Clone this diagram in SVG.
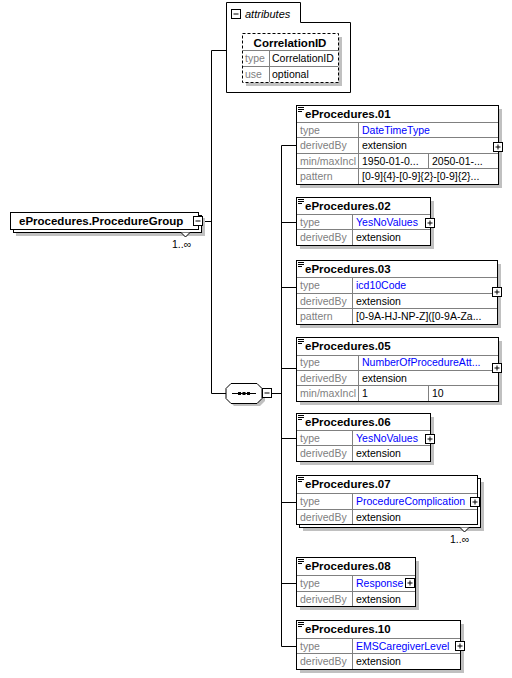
<svg xmlns="http://www.w3.org/2000/svg" width="512" height="678" viewBox="0 0 512 678">
<style>
text{font-family:"Liberation Sans",Arial,sans-serif;font-size:10.5px}
.t{font-weight:bold;font-size:11.5px;fill:#000}
.l{fill:#808080}
.v{fill:#000}
.b{fill:#0000ff}
.box{fill:#fff;stroke:#000;stroke-width:1}
.sh{fill:#c0c0c0}
.g{stroke:#808080;stroke-width:1;fill:none}
.c{stroke:#000;stroke-width:1;fill:none}
.ic{fill:#fff;stroke:#000;stroke-width:1}
</style>
<defs>
<g id="plus"><rect class="ic" x="0.5" y="0.5" width="9" height="9"/><path class="c" d="M2.5,5H7.5M5,2.5V7.5"/></g>
<g id="minus"><rect class="ic" x="0.5" y="0.5" width="9" height="9"/><path class="c" d="M2.5,5H7.5"/></g>
<g id="doc"><path class="c" d="M0,0.5H6M0,2.5H6M0,4.5H4"/></g>
</defs>

<g id="connectors">
<path class="c" d="M211.5,50.5V393.5M211.5,50.5H226M203,221.5H211.5M211.5,393.5H226M272,393.5H281.5M281.5,145.5V646.5"/>
<path class="c" d="M281.5,145.5H296M281.5,222.5H296M281.5,287.5H296M281.5,368.5H296M281.5,438.5H296M281.5,502.5H296M281.5,583.5H296M281.5,646.5H296"/>
</g>

<g id="attributes">
<path class="box" d="M226.5,92.5V2.5H300.5V22.5H350.5V92.5Z"/>
<use href="#minus" x="231" y="9"/>
<text x="245" y="18" style="font-style:italic;font-size:11px">attributes</text>
<rect class="sh" x="246" y="37" width="96" height="49"/>
<rect x="242.5" y="33.5" width="96" height="49" fill="#fff" stroke="#000" stroke-dasharray="3,2"/>
<path class="g" d="M243,50.5H338M243,66.5H338M269.5,50V82"/>
<text class="t" x="290" y="47" text-anchor="middle">CorrelationID</text>
<text class="l" x="245" y="62">type</text><text class="v" x="272" y="62">CorrelationID</text>
<text class="l" x="245" y="78">use</text><text class="v" x="272" y="78">optional</text>
</g>

<g id="procedureGroup">
<rect class="sh" x="16" y="218" width="189" height="18"/>
<rect class="box" x="13.5" y="215.5" width="188" height="17"/>
<rect class="box" x="10.5" y="212.5" width="188" height="17"/>
<path d="M181,232.5L185.5,237L190,232.5" fill="#fff" stroke="#000"/>
<text class="t" x="19" y="225">eProcedures.ProcedureGroup</text>
<use href="#minus" x="193" y="216"/>
<text class="v" x="172" y="248">1..∞</text>
</g>

<g id="sequence">
<path class="sh" d="M234,386H260L265,391V401L260,406H234L229,401V391Z"/>
<path class="box" d="M231,383.5H257L262,388.5V398.5L257,403.5H231L226,398.5V388.5Z"/>
<path class="c" d="M232,393.5H256"/>
<rect x="238" y="392" width="3" height="3" fill="#000"/><rect x="242.5" y="392" width="3" height="3" fill="#000"/><rect x="247" y="392" width="3" height="3" fill="#000"/>
<use href="#minus" x="262" y="388"/>
</g>

<g id="ep01">
<rect class="sh" x="300" y="109" width="202" height="79"/>
<rect class="box" x="296.5" y="105.5" width="202" height="79"/>
<path class="g" d="M297,122.5H498M297,137.5H498M297,153.5H498M297,168.5H498M358.5,122V184M428.5,153V168"/>
<use href="#doc" x="298" y="107"/>
<text class="t" x="305" y="118">eProcedures.01</text>
<text class="l" x="300" y="134">type</text><text class="b" x="362" y="134">DateTimeType</text>
<text class="l" x="300" y="149">derivedBy</text><text class="v" x="362" y="149">extension</text>
<text class="l" x="300" y="165">min/maxIncl</text><text class="v" x="362" y="165">1950-01-0...</text><text class="v" x="432" y="165">2050-01-...</text>
<text class="l" x="300" y="180">pattern</text><text class="v" x="362" y="180">[0-9]{4}-[0-9]{2}-[0-9]{2}...</text>
<use href="#plus" x="493" y="142"/>
</g>

<g id="ep02">
<rect class="sh" x="300" y="201" width="134" height="48"/>
<rect class="box" x="296.5" y="197.5" width="134" height="48"/>
<path class="g" d="M297,214.5H430M297,229.5H430M352.5,214V245"/>
<use href="#doc" x="298" y="199"/>
<text class="t" x="305" y="210">eProcedures.02</text>
<text class="l" x="300" y="226">type</text><text class="b" x="356" y="226">YesNoValues</text>
<text class="l" x="300" y="241">derivedBy</text><text class="v" x="356" y="241">extension</text>
<use href="#plus" x="425" y="218"/>
</g>

<g id="ep03">
<rect class="sh" x="300" y="264" width="201" height="64"/>
<rect class="box" x="296.5" y="260.5" width="201" height="64"/>
<path class="g" d="M297,277.5H497M297,293.5H497M297,308.5H497M352.5,277V324"/>
<use href="#doc" x="298" y="262"/>
<text class="t" x="305" y="273">eProcedures.03</text>
<text class="l" x="300" y="289">type</text><text class="b" x="356" y="289">icd10Code</text>
<text class="l" x="300" y="305">derivedBy</text><text class="v" x="356" y="305">extension</text>
<text class="l" x="300" y="320">pattern</text><text class="v" x="356" y="320">[0-9A-HJ-NP-Z]([0-9A-Za...</text>
<use href="#plus" x="492" y="287"/>
</g>

<g id="ep05">
<rect class="sh" x="300" y="341" width="202" height="64"/>
<rect class="box" x="296.5" y="337.5" width="202" height="64"/>
<path class="g" d="M297,355.5H498M297,370.5H498M297,385.5H498M358.5,355V401M428.5,385V401"/>
<use href="#doc" x="298" y="339"/>
<text class="t" x="305" y="350">eProcedures.05</text>
<text class="l" x="300" y="366">type</text><text class="b" x="362" y="366">NumberOfProcedureAtt...</text>
<text class="l" x="300" y="382">derivedBy</text><text class="v" x="362" y="382">extension</text>
<text class="l" x="300" y="397">min/maxIncl</text><text class="v" x="362" y="397">1</text><text class="v" x="432" y="397">10</text>
<use href="#plus" x="492" y="363"/>
</g>

<g id="ep06">
<rect class="sh" x="300" y="417" width="134" height="48"/>
<rect class="box" x="296.5" y="413.5" width="134" height="48"/>
<path class="g" d="M297,430.5H430M297,445.5H430M352.5,430V461"/>
<use href="#doc" x="298" y="415"/>
<text class="t" x="305" y="426">eProcedures.06</text>
<text class="l" x="300" y="442">type</text><text class="b" x="356" y="442">YesNoValues</text>
<text class="l" x="300" y="457">derivedBy</text><text class="v" x="356" y="457">extension</text>
<use href="#plus" x="425" y="434"/>
</g>

<g id="ep07">
<rect class="sh" x="303" y="482" width="181" height="49"/>
<rect class="box" x="299.5" y="478.5" width="181" height="49"/>
<rect class="box" x="296.5" y="475.5" width="181" height="49"/>
<path d="M460,527.5L464.5,532L469,527.5" fill="#fff" stroke="#000"/>
<path class="g" d="M297,493.5H477M297,509.5H477M352.5,493V524"/>
<use href="#doc" x="298" y="477"/>
<text class="t" x="305" y="488">eProcedures.07</text>
<text class="l" x="300" y="505">type</text><text class="b" x="356" y="505">ProcedureComplication</text>
<text class="l" x="300" y="521">derivedBy</text><text class="v" x="356" y="521">extension</text>
<use href="#plus" x="470" y="497"/>
<text class="v" x="450" y="543">1..∞</text>
</g>

<g id="ep08">
<rect class="sh" x="300" y="561" width="119" height="49"/>
<rect class="box" x="296.5" y="557.5" width="119" height="49"/>
<path class="g" d="M297,575.5H415M297,591.5H415M352.5,575V606"/>
<use href="#doc" x="298" y="559"/>
<text class="t" x="305" y="570">eProcedures.08</text>
<text class="l" x="300" y="587">type</text><text class="b" x="356" y="587">Response</text>
<text class="l" x="300" y="603">derivedBy</text><text class="v" x="356" y="603">extension</text>
<use href="#plus" x="405" y="578"/>
</g>

<g id="ep10">
<rect class="sh" x="300" y="624" width="164" height="49"/>
<rect class="box" x="296.5" y="620.5" width="164" height="49"/>
<path class="g" d="M297,638.5H460M297,653.5H460M352.5,638V669"/>
<use href="#doc" x="298" y="622"/>
<text class="t" x="305" y="633">eProcedures.10</text>
<text class="l" x="300" y="650">type</text><text class="b" x="356" y="650">EMSCaregiverLevel</text>
<text class="l" x="300" y="665">derivedBy</text><text class="v" x="356" y="665">extension</text>
<use href="#plus" x="455" y="641"/>
</g>
</svg>
